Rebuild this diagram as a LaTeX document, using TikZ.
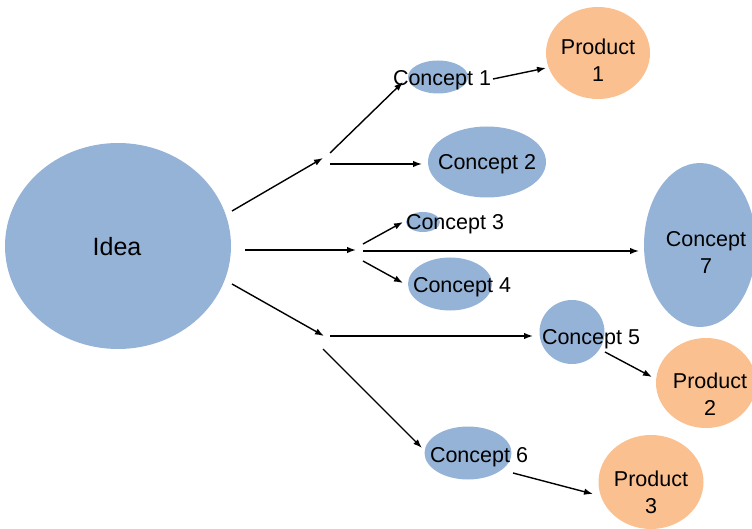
\documentclass[tikz,border=0pt]{standalone}
\usepackage{fontspec}
\setmainfont{Liberation Sans}
\usetikzlibrary{arrows.meta,shapes.geometric}
\definecolor{cblue}{HTML}{95B3D7}
\definecolor{corange}{HTML}{FAC090}
\begin{document}
\begin{tikzpicture}[x=1pt,y=-1pt,
  blob/.style={ellipse, fill=cblue, inner sep=0pt},
  prod/.style={ellipse, fill=corange, inner sep=0pt},
  lbl/.style={font=\fontsize{21.5}{27}\selectfont, align=center, inner sep=0pt},
  arr/.style={line width=1.4pt, -{Latex[length=9pt,width=6.5pt]}}]
\useasboundingbox (0,0) rectangle (752,529);
% shapes
\node[blob, minimum width=226pt, minimum height=206pt] (idea) at (118,246) {};
\node[blob, minimum width=60pt, minimum height=33pt] (c1) at (438,77) {};
\node[prod, minimum width=104pt, minimum height=92pt] (p1) at (598,53) {};
\node[blob, minimum width=118pt, minimum height=71pt] (c2) at (487,162) {};
\node[blob, minimum width=34pt, minimum height=20pt] (c3) at (423,222) {};
\node[blob, minimum width=84pt, minimum height=53pt] (c4) at (450,284) {};
\node[blob, minimum width=112pt, minimum height=164pt] (c7) at (700,245) {};
\node[blob, minimum width=65pt, minimum height=64pt] (c5) at (572,332) {};
\node[prod, minimum width=100pt, minimum height=90pt] (p2) at (706,383) {};
\node[blob, minimum width=87pt, minimum height=53pt] (c6) at (468,453) {};
\node[prod, minimum width=105pt, minimum height=94pt] (p3) at (651,482) {};
% labels
\node[lbl, font=\fontsize{25}{30}\selectfont] (ideat) at (117,247) {Idea};
\node[lbl] (c1t) at (442,80) {Concept 1};
\node[lbl] (p1t) at (598,60) {Product\\1};
\node[lbl] (c2t) at (487,164) {Concept 2};
\node[lbl] (c3t) at (455,224) {Concept 3};
\node[lbl] (c4t) at (462,287) {Concept 4};
\node[lbl] (c7t) at (706,252) {Concept\\7};
\node[lbl] (c5t) at (591,339) {Concept 5};
\node[lbl] (p2t) at (710,394) {Product\\2};
\node[lbl] (c6t) at (479,457) {Concept 6};
\node[lbl] (p3t) at (651,492) {Product\\3};
% junction coordinates
\coordinate (a1s) at (232,211); \coordinate (a1e) at (323,158);
\coordinate (a2s) at (330,153); \coordinate (a2e) at (403,82);
\coordinate (a3s) at (330,164); \coordinate (a3e) at (422,164);
\coordinate (a4s) at (493,79);  \coordinate (a4e) at (546,68);
\coordinate (a5s) at (245,250); \coordinate (a5e) at (356,250);
\coordinate (a6s) at (363,244); \coordinate (a6e) at (403,222);
\coordinate (a7s) at (363,251); \coordinate (a7e) at (639,251);
\coordinate (a8s) at (363,261); \coordinate (a8e) at (403,283);
\coordinate (a9s) at (232,284); \coordinate (a9e) at (324,336);
\coordinate (a10s) at (330,336); \coordinate (a10e) at (533,336);
\coordinate (a11s) at (323,349); \coordinate (a11e) at (422,448);
\coordinate (a12s) at (605,352); \coordinate (a12e) at (652,377);
\coordinate (a13s) at (513,473); \coordinate (a13e) at (593,494);
% connectors
\draw[arr] (a1s) -- (a1e);
\draw[arr] (a2s) -- (a2e);
\draw[arr] (a3s) -- (a3e);
\draw[arr] (a4s) -- (a4e);
\draw[arr] (a5s) -- (a5e);
\draw[arr] (a6s) -- (a6e);
\draw[arr] (a7s) -- (a7e);
\draw[arr] (a8s) -- (a8e);
\draw[arr] (a9s) -- (a9e);
\draw[arr] (a10s) -- (a10e);
\draw[arr] (a11s) -- (a11e);
\draw[arr] (a12s) -- (a12e);
\draw[arr] (a13s) -- (a13e);
\end{tikzpicture}
\end{document}
